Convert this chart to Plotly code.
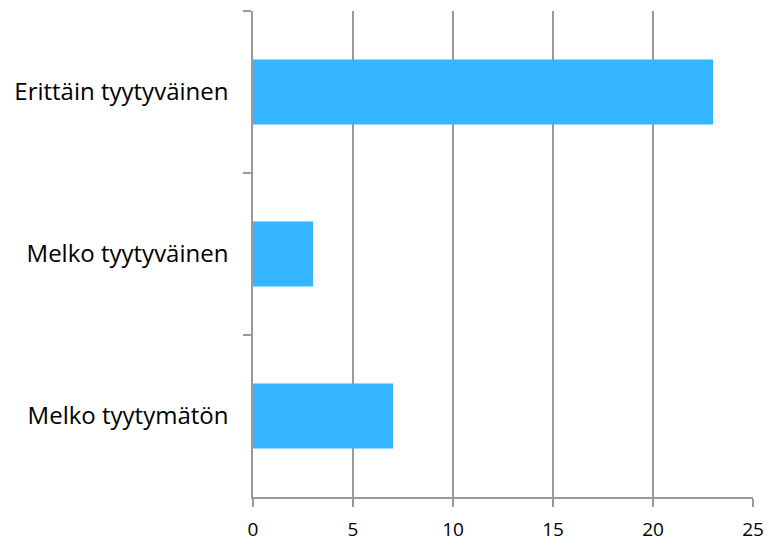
import plotly.graph_objects as go

categories = ["Erittäin tyytyväinen", "Melko tyytyväinen", "Melko tyytymätön"]
values = [23, 3, 7]
x_ticks = [0, 5, 10, 15, 20, 25]

fig = go.Figure(go.Bar(
    x=values, y=categories, orientation="h",
    marker=dict(color="#33B5FF", line=dict(width=0)),
    width=0.4,
))

fig.update_layout(
    width=769, height=545,
    margin=dict(l=253, r=16, t=11, b=48, autoexpand=False),
    plot_bgcolor="white", paper_bgcolor="white",
    font=dict(family="Open Sans", size=20, color="#000000"),
    showlegend=False,
)
fig.update_xaxes(
    range=[0, 25], tickvals=x_ticks, ticktext=[str(v) for v in x_ticks],
    showgrid=True, gridcolor="#9a9a9a", gridwidth=1.5,
    showline=True, linecolor="#9a9a9a", linewidth=1.5,
    ticks="outside", ticklen=8, tickcolor="#9a9a9a", tickwidth=1.5,
    ticklabelstandoff=6, zeroline=False, automargin=False,
    tickfont=dict(size=19),
)
fig.update_yaxes(
    categoryorder="array", categoryarray=categories, autorange="reversed",
    showline=True, linecolor="#9a9a9a", linewidth=1.5,
    ticks="outside", ticklen=8, tickcolor="#9a9a9a", tickwidth=1.5,
    tickson="boundaries", ticklabelstandoff=18,
    showgrid=False, zeroline=False, automargin=False,
    tickfont=dict(size=24),
)

fig.write_html(
    "out.html",
    config={"displayModeBar": False},
    post_script="document.body.style.margin='0';document.body.style.overflow='hidden';",
)
